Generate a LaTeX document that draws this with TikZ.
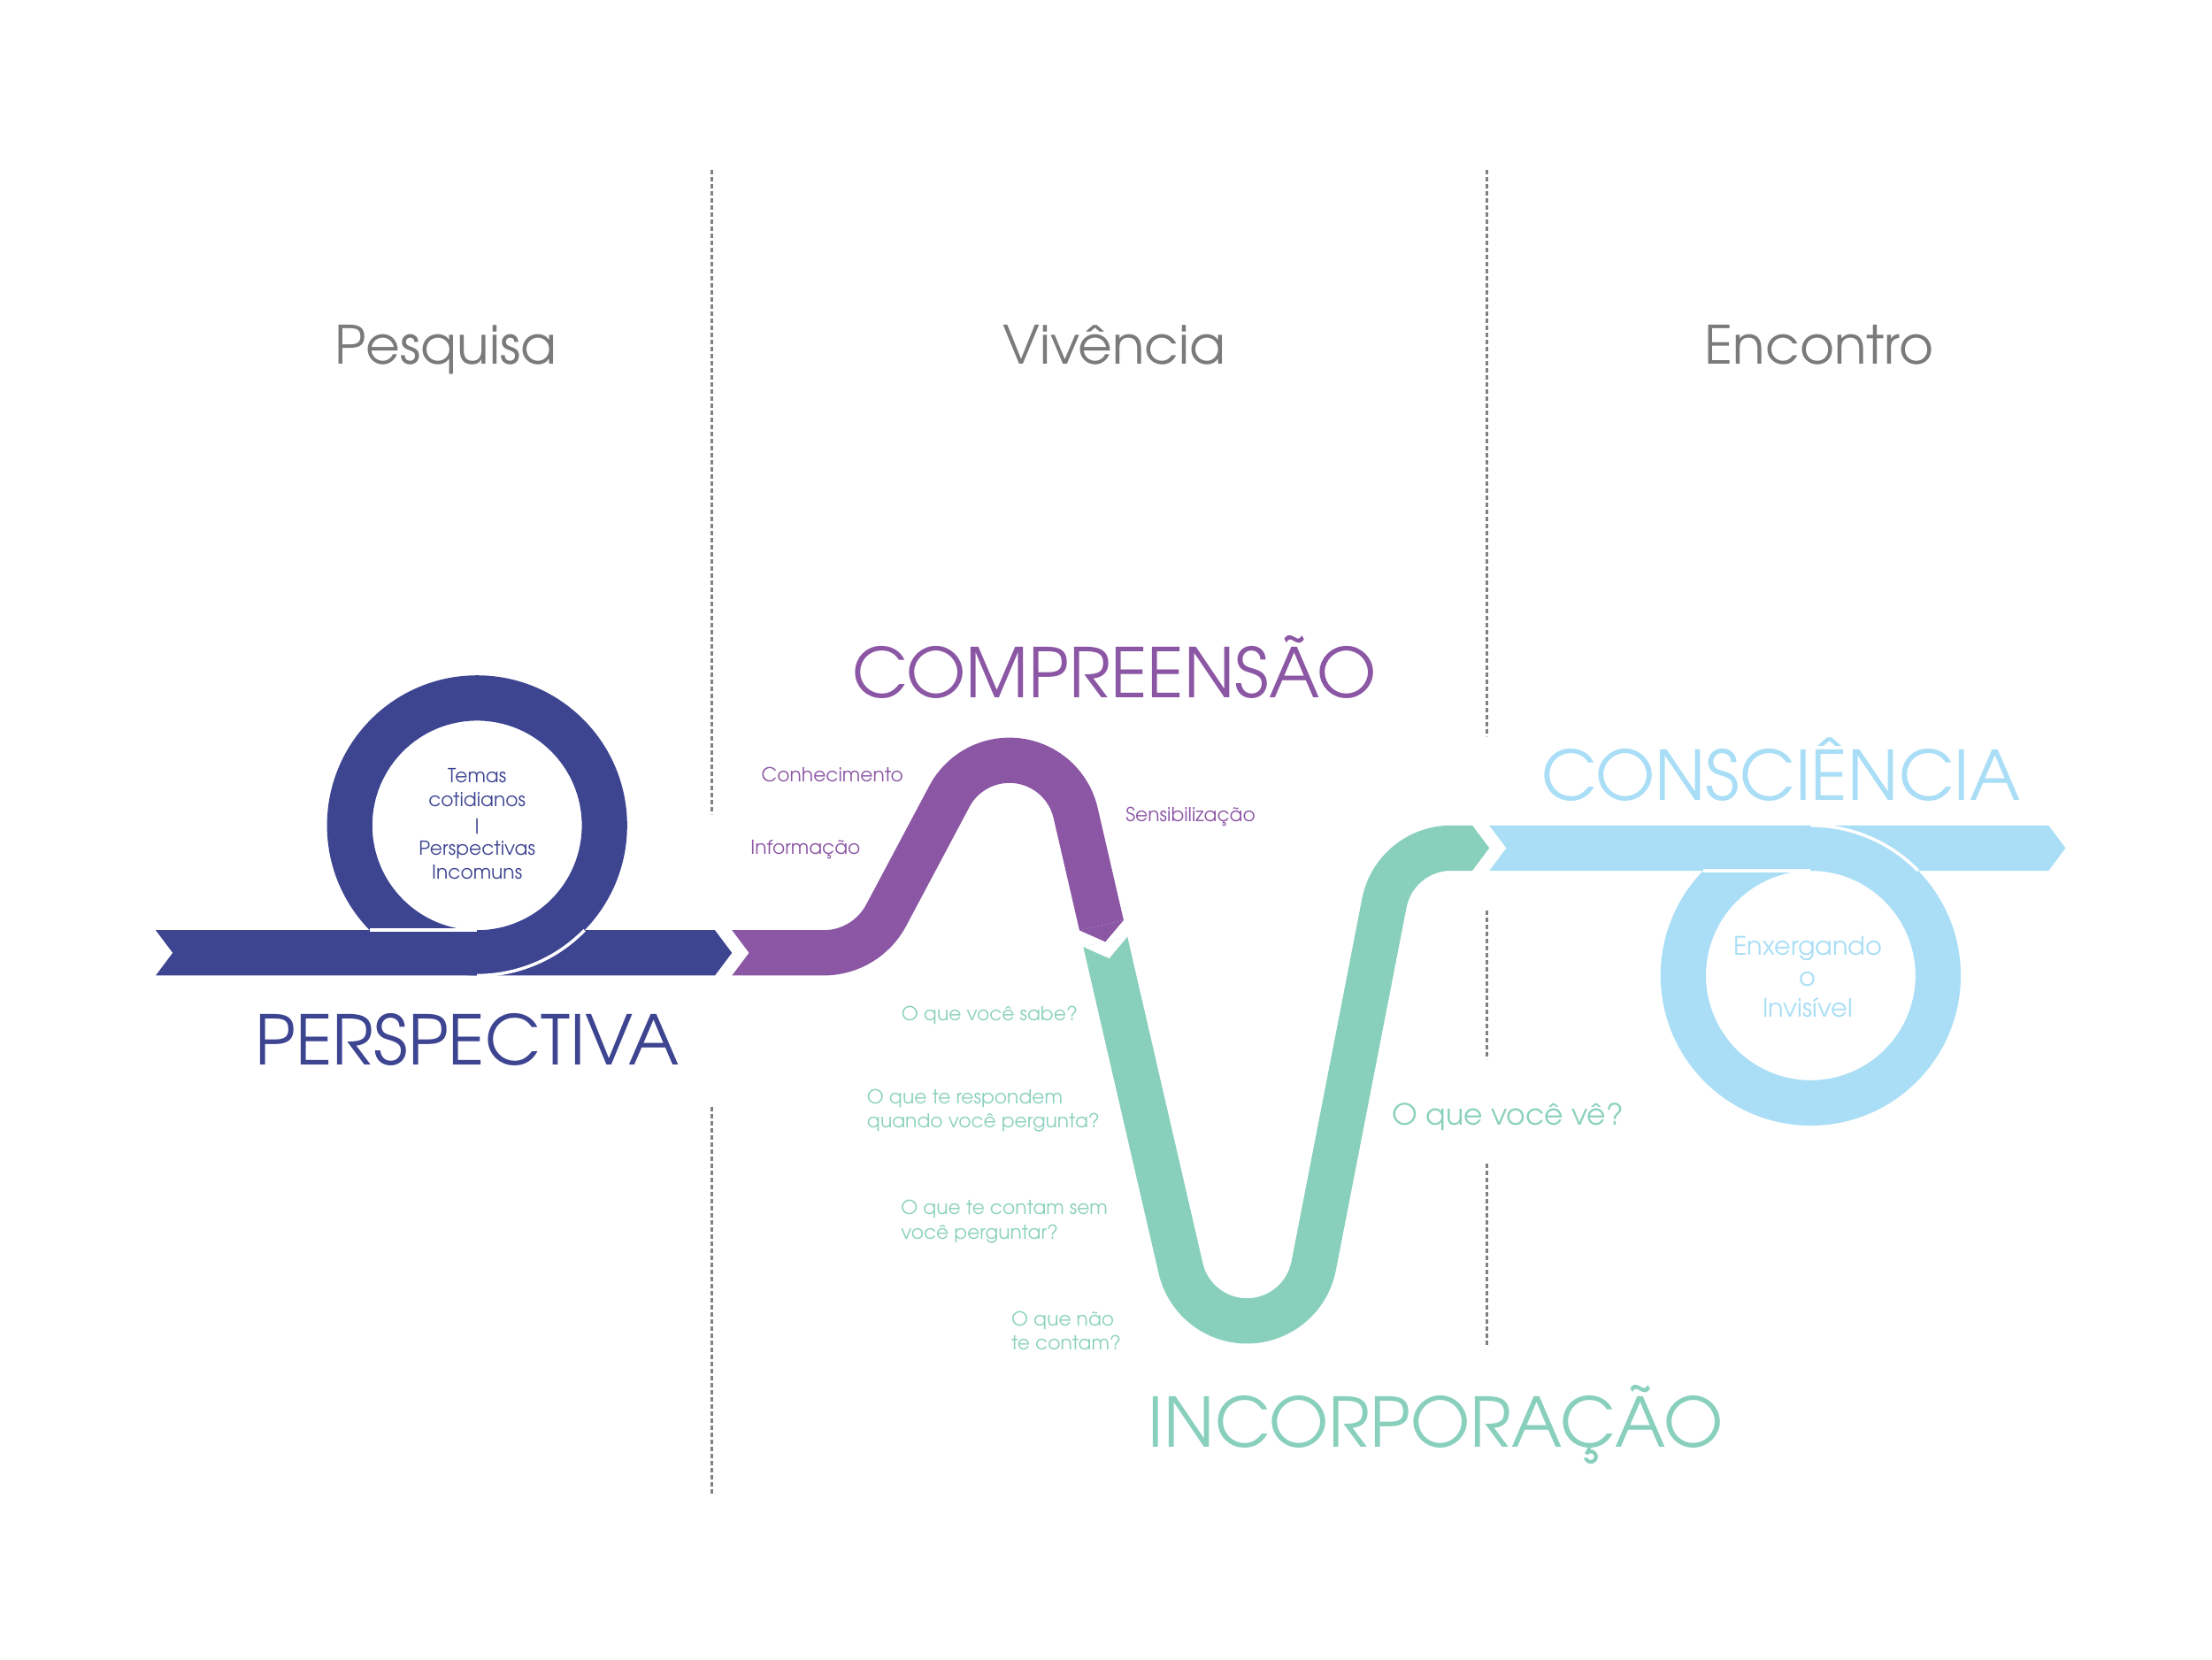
\documentclass[tikz,border=0pt]{standalone}
\usepackage{fontspec}
\setmainfont{texgyreadventor}[Extension=.otf, UprightFont=*-regular]
\definecolor{perspcor}{HTML}{3D4591}
\definecolor{comprcor}{HTML}{8B56A4}
\definecolor{incorpcor}{HTML}{89D0BC}
\definecolor{consccor}{HTML}{A9DEF6}
\definecolor{fasecor}{HTML}{7A7A7A}
\definecolor{divisacor}{HTML}{808080}
\tikzset{
  fase/.style={text=fasecor, font=\fontsize{17}{20}\selectfont, anchor=base},
  palavra/.style={font=\fontsize{22}{26}\selectfont, anchor=base},
  nota/.style={font=\fontsize{6.2}{7.8}\selectfont, inner sep=0pt},
  divisa/.style={draw=divisacor, line width=0.3mm, dash pattern=on 0.5mm off 0.3mm},
  fita/.style={line width=5.12mm},
  corte/.style={draw=white, line width=0.35mm},
}
\begin{document}
\begin{tikzpicture}[x=0.16mm, y=-0.16mm]
\useasboundingbox (0,0) rectangle (1562.5,1171.875);
% divisorias
\draw[divisa] (503,120)--(503,575);
\draw[divisa] (503,782)--(503,1055);
\draw[divisa] (1050,120)--(1050,520);
\draw[divisa] (1050,643)--(1050,748);
\draw[divisa] (1050,822)--(1050,950);
% fases
\node[fase] (pesquisa) at (315,257) {Pesquisa};
\node[fase] (vivencia) at (787,257) {Vivência};
\node[fase] (encontro) at (1285,257) {Encontro};
% incorporacao (verde)
\draw[fita, incorpcor] (780.78,665.19)--(834.03,895.8)
  arc[start angle=167, end angle=11, radius=48]--(977.8,637.84)
  arc[start angle=191, end angle=270, radius=48]--(1040,599);
\fill[incorpcor] (1040,583)--(1052,599)--(1040,615)--cycle;
\fill[white] (796.37,661.59)--(783.48,676.89)--(765.19,668.79)--cycle;
% compreensao (roxo)
\draw[fita, comprcor] (517,673)--(581.81,673)
  arc[start angle=90, end angle=28, radius=50]--(670.62,562.47)
  arc[start angle=208, end angle=347, radius=48]--(778.08,653.5);
\fill[comprcor] (793.67,649.9)--(780.78,665.19)--(762.49,657.1)--cycle;
\fill[white] (517,657)--(529,673)--(517,689)--cycle;
% perspectiva (azul)
\fill[perspcor] (110,657)--(505,657)--(517,673)--(505,689)--(110,689)--(122,673)--cycle;
\fill[perspcor, even odd rule] (337,583) circle (106) (337,583) circle (74);
\draw[corte] (261.1,657)--(337,657);
\draw[corte] (337,689) arc[start angle=90, end angle=44.27, radius=106];
% consciencia (azul claro)
\fill[consccor] (1052,583)--(1447,583)--(1459,599)--(1447,615)--(1052,615)--(1064,599)--cycle;
\fill[consccor, even odd rule] (1279,689) circle (106) (1279,689) circle (74);
\draw[corte] (1203.1,615)--(1279,615);
\draw[corte] (1279,583) arc[start angle=-90, end angle=-44.27, radius=106];
% textos grandes
\node[palavra, text=perspcor] (perspectiva) at (330,752) {PERSPECTIVA};
\node[palavra, text=comprcor] (compreensao) at (787,493) {COMPREENSÃO};
\node[palavra, text=consccor] (consciencia) at (1258,565) {CONSCIÊNCIA};
\node[palavra, text=incorpcor] (incorporacao) at (1014,1022) {INCORPORAÇÃO};
% textos pequenos
\node[nota, text=perspcor, align=center] (temas) at (337,582)
  {Temas\\cotidianos\\|\\Perspectivas\\Incomuns};
\node[nota, text=consccor, align=center, font=\fontsize{8.2}{10}\selectfont] (enxergando) at (1277,690)
  {Enxergando\\o\\Invisível};
\node[nota, text=comprcor] (conhecimento) at (588,547) {Conhecimento};
\node[nota, text=comprcor] (informacao) at (569,600) {Informação};
\node[nota, text=comprcor] (sensibilizacao) at (841,577) {Sensibilização};
\node[nota, text=incorpcor] (sabe) at (699,717) {O que você sabe?};
\node[nota, text=incorpcor, align=left, anchor=west] (respondem) at (612,784.5)
  {O que te respondem\\quando você pergunta?};
\node[nota, text=incorpcor, align=left, anchor=west] (contam) at (636,863)
  {O que te contam sem\\você perguntar?};
\node[nota, text=incorpcor, align=left, anchor=west] (naocontam) at (714,940)
  {O que não\\te contam?};
\node[nota, text=incorpcor, anchor=west, font=\fontsize{9.4}{11}\selectfont] (ve) at (983,789) {O que você vê?};
\end{tikzpicture}
\end{document}
